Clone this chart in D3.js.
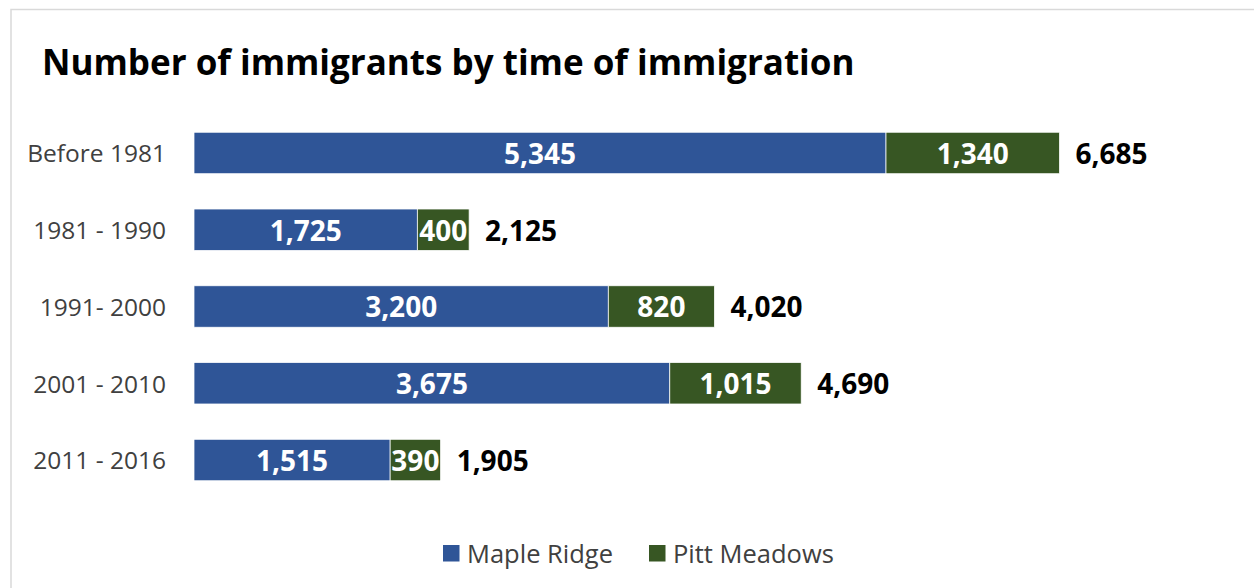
<!DOCTYPE html>
<html>
<head>
<meta charset="utf-8">
<script src="https://cdn.jsdelivr.net/npm/d3@7/dist/d3.min.js"></script>
<style>
  html, body { margin: 0; padding: 0; background: #ffffff; }
  svg { display: block; }
</style>
</head>
<body>
<svg id="chart" width="1254" height="588"></svg>
<script>
// Immigrants by period of arrival, stacked by municipality
const periods = ["Before 1981", "1981 - 1990", "1991- 2000", "2001 - 2010", "2011 - 2016"];
const mapleRidge = [5345, 1725, 3200, 3675, 1515];
const pittMeadows = [1340, 400, 820, 1015, 390];
const seriesNames = ["Maple Ridge", "Pitt Meadows"];
const seriesColors = ["#2F5597", "#375623"];

const W = 1254, H = 588;
const FONT = "'Open Sans', Lato, 'Liberation Sans', sans-serif";
const svg = d3.select("#chart");

// outer frame
svg.append("rect")
  .attr("x", 11).attr("y", 9.5)
  .attr("width", W + 20).attr("height", H + 20)
  .attr("fill", "#ffffff")
  .attr("stroke", "#D9D9D9").attr("stroke-width", 1.5);

// title
svg.append("text")
  .attr("x", 42).attr("y", 75)
  .attr("font-family", FONT).attr("font-weight", 700)
  .attr("font-size", 35).attr("fill", "#000000")
  .text("Number of immigrants by time of immigration");

const rows = periods.map((p, i) => ({
  period: p,
  "Maple Ridge": mapleRidge[i],
  "Pitt Meadows": pittMeadows[i],
  total: mapleRidge[i] + pittMeadows[i]
}));

const x = d3.scaleLinear().domain([0, 7000]).range([194, 194 + 7000 * (692 / 5345)]);
const y = d3.scaleBand().domain(periods)
  .range([114.6, 498.4]).paddingInner(0.46).paddingOuter(0.23);

const stacked = d3.stack().keys(seriesNames)(rows);

// category axis (labels only)
const yAxis = d3.axisLeft(y).tickSize(0).tickPadding(0);
const gy = svg.append("g").attr("transform", "translate(166,0)").call(yAxis);
gy.select(".domain").remove();
gy.selectAll("text")
  .attr("dy", "0.38em")
  .attr("font-family", FONT).attr("font-size", 24.5)
  .attr("fill", "#404040");

// bar segments
const layer = svg.append("g").selectAll("g")
  .data(stacked).join("g")
  .attr("fill", (d, i) => seriesColors[i]);

layer.selectAll("rect")
  .data(d => d)
  .join("rect")
  .attr("x", d => x(d[0]))
  .attr("y", d => y(d.data.period))
  .attr("width", d => x(d[1]) - x(d[0]))
  .attr("height", y.bandwidth())
  .attr("stroke", "#ffffff").attr("stroke-width", 0.75);

// segment value labels
const fmt = d3.format(",");
layer.selectAll("text")
  .data(d => d.map(v => ({ v, key: d.key })))
  .join("text")
  .attr("x", d => (x(d.v[0]) + x(d.v[1])) / 2)
  .attr("y", d => y(d.v.data.period) + y.bandwidth() / 2)
  .attr("dy", "0.39em")
  .attr("text-anchor", "middle")
  .attr("font-family", FONT).attr("font-weight", 700)
  .attr("font-size", 28).attr("fill", "#ffffff")
  .text(d => fmt(d.v[1] - d.v[0]));

// totals at bar ends
svg.append("g").selectAll("text")
  .data(rows).join("text")
  .attr("x", d => x(d.total) + 16)
  .attr("y", d => y(d.period) + y.bandwidth() / 2)
  .attr("dy", "0.39em")
  .attr("font-family", FONT).attr("font-weight", 700)
  .attr("font-size", 28).attr("fill", "#000000")
  .text(d => fmt(d.total));

// legend
const legendX = [443, 649];
const legend = svg.append("g").selectAll("g")
  .data(seriesNames).join("g")
  .attr("transform", (d, i) => `translate(${legendX[i]},545)`);
legend.append("rect")
  .attr("width", 16.5).attr("height", 16.5)
  .attr("fill", (d, i) => seriesColors[i]);
legend.append("text")
  .attr("x", 24).attr("y", 8.5).attr("dy", "0.36em")
  .attr("font-family", FONT).attr("font-size", 25.5)
  .attr("fill", "#404040")
  .text(d => d);
</script>
</body>
</html>
